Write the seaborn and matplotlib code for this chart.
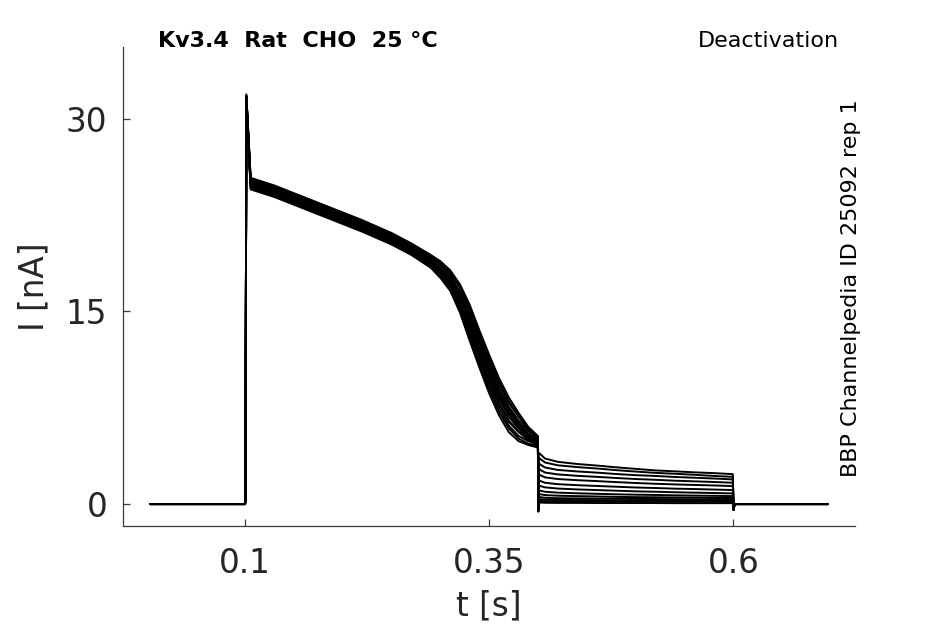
import numpy as np
import pandas as pd
import matplotlib
matplotlib.use("Agg")
import matplotlib.pyplot as plt
import seaborn as sns

# time points (s) shared by every sweep
T_ACT = [0.0025, 0.0998, 0.1000, 0.1004, 0.1011, 0.1055, 0.13, 0.16, 0.19, 0.22,
         0.25, 0.27, 0.29, 0.30, 0.31, 0.32, 0.33, 0.34, 0.35, 0.36,
         0.37, 0.38, 0.39, 0.3998]
T_TAIL = [0.4002, 0.4008, 0.407, 0.42, 0.44, 0.46, 0.48, 0.50, 0.52, 0.54, 0.56, 0.58, 0.5995]
T_END = [0.6003, 0.6012, 0.697]

# current (nA) during the activating step, one row per sweep
I_ACT = [
    [0, 0, 0.3, 6.0, 31.7, 25.0, 24.4, 23.5, 22.6, 21.7, 20.7, 19.9, 18.9, 18.3, 17.4, 16.0, 14.1, 12.1, 10.1, 8.4, 7.0, 6.0, 5.3, 4.9],
    [0, 0, 0.3, 6.1, 31.8, 25.3, 24.7, 23.8, 22.9, 22.0, 21.0, 20.2, 19.3, 18.7, 18.0, 16.8, 15.1, 13.1, 11.2, 9.4, 7.9, 6.8, 5.8, 5.2],
    [0, 0, 0.3, 5.8, 31.6, 24.7, 24.1, 23.2, 22.3, 21.4, 20.4, 19.6, 18.6, 17.9, 16.9, 15.3, 13.3, 11.2, 9.2, 7.5, 6.1, 5.3, 4.9, 4.6],
    [0, 0, 0.3, 6.2, 31.9, 25.4, 24.8, 23.9, 23.0, 22.1, 21.1, 20.3, 19.4, 18.9, 18.2, 17.1, 15.5, 13.5, 11.6, 9.8, 8.3, 7.1, 6.0, 5.3],
    [0, 0, 0.3, 5.9, 31.5, 24.8, 24.2, 23.3, 22.4, 21.5, 20.5, 19.7, 18.8, 18.1, 17.2, 15.7, 13.7, 11.6, 9.7, 7.9, 6.5, 5.7, 5.1, 4.7],
    [0, 0, 0.3, 6.0, 31.8, 25.1, 24.5, 23.6, 22.7, 21.8, 20.8, 20.0, 19.1, 18.4, 17.6, 16.3, 14.5, 12.5, 10.6, 8.8, 7.4, 6.3, 5.5, 5.0],
    [0, 0, 0.3, 5.7, 31.4, 24.5, 23.9, 23.0, 22.1, 21.2, 20.2, 19.4, 18.4, 17.6, 16.6, 14.9, 12.7, 10.6, 8.6, 6.9, 5.6, 4.9, 4.6, 4.4],
    [0, 0, 0.3, 6.1, 31.7, 25.2, 24.6, 23.7, 22.8, 21.9, 20.9, 20.1, 19.2, 18.6, 17.8, 16.5, 14.8, 12.8, 10.9, 9.1, 7.6, 6.5, 5.7, 5.1],
    [0, 0, 0.3, 5.9, 31.6, 24.9, 24.3, 23.4, 22.5, 21.6, 20.6, 19.8, 18.9, 18.2, 17.3, 15.9, 14.0, 11.9, 10.0, 8.2, 6.8, 5.9, 5.2, 4.8],
    [0, 0, 0.3, 6.1, 31.8, 25.3, 24.7, 23.8, 22.9, 22.0, 21.0, 20.2, 19.3, 18.8, 18.0, 16.9, 15.2, 13.2, 11.3, 9.5, 8.0, 6.9, 5.9, 5.2],
    [0, 0, 0.3, 5.8, 31.5, 24.6, 24.0, 23.1, 22.2, 21.3, 20.3, 19.5, 18.5, 17.7, 16.8, 15.1, 13.0, 10.9, 8.9, 7.2, 5.9, 5.1, 4.7, 4.5],
    [0, 0, 0.3, 6.0, 31.7, 25.0, 24.4, 23.5, 22.6, 21.7, 20.7, 19.9, 19.0, 18.4, 17.6, 16.2, 14.4, 12.3, 10.4, 8.6, 7.2, 6.2, 5.4, 4.9],
    [0, 0, 0.3, 5.8, 31.6, 24.8, 24.2, 23.3, 22.4, 21.5, 20.5, 19.7, 18.7, 18.0, 17.1, 15.6, 13.5, 11.5, 9.5, 7.8, 6.4, 5.6, 5.0, 4.7],
]

# current (nA) during the deactivating step
I_TAIL = [
    [0.6, 4.00, 3.55, 3.29, 3.12, 3.00, 2.86, 2.74, 2.62, 2.55, 2.47, 2.41, 2.33],
    [0.4, 3.60, 3.24, 3.02, 2.88, 2.77, 2.64, 2.53, 2.43, 2.36, 2.28, 2.19, 2.12],
    [0.2, 3.15, 2.85, 2.66, 2.54, 2.45, 2.34, 2.25, 2.19, 2.11, 2.05, 1.99, 1.92],
    [0.0, 2.72, 2.46, 2.31, 2.20, 2.12, 2.03, 1.95, 1.89, 1.82, 1.77, 1.72, 1.66],
    [-0.1, 2.30, 2.08, 1.95, 1.86, 1.79, 1.71, 1.64, 1.58, 1.53, 1.49, 1.45, 1.40],
    [-0.2, 1.84, 1.66, 1.55, 1.47, 1.41, 1.35, 1.29, 1.25, 1.20, 1.17, 1.13, 1.09],
    [-0.3, 1.44, 1.30, 1.21, 1.14, 1.09, 1.04, 0.99, 0.96, 0.92, 0.89, 0.86, 0.83],
    [-0.35, 1.06, 0.96, 0.89, 0.84, 0.80, 0.76, 0.73, 0.71, 0.68, 0.66, 0.64, 0.62],
    [-0.4, 0.78, 0.70, 0.65, 0.62, 0.59, 0.56, 0.54, 0.53, 0.51, 0.50, 0.48, 0.47],
    [-0.45, 0.55, 0.49, 0.46, 0.44, 0.42, 0.41, 0.40, 0.39, 0.38, 0.37, 0.37, 0.36],
    [-0.5, 0.38, 0.34, 0.32, 0.31, 0.30, 0.29, 0.29, 0.28, 0.28, 0.27, 0.27, 0.26],
    [-0.55, 0.25, 0.22, 0.21, 0.20, 0.20, 0.19, 0.19, 0.19, 0.18, 0.18, 0.18, 0.17],
    [-0.6, 0.12, 0.10, 0.09, 0.09, 0.08, 0.08, 0.08, 0.08, 0.07, 0.07, 0.07, 0.07],
]

# back to holding potential
I_END = [-0.45, 0.0, 0.0]

TITLE = "Kv3.4  Rat  CHO  25 °C"
PROTOCOL = "Deactivation"
SOURCE = "BBP Channelpedia ID 25092 rep 1"


def build_frame():
    rows = []
    times = T_ACT + T_TAIL + T_END
    for k, (act, tail) in enumerate(zip(I_ACT, I_TAIL)):
        vals = act + tail + I_END
        for t, i in zip(times, vals):
            rows.append({"t": t, "I": i, "sweep": k})
    return pd.DataFrame(rows)


def main():
    df = build_frame()

    sns.set_theme(style="ticks")
    plt.rcParams["font.family"] = ["DejaVu Sans"]

    fig = plt.figure(figsize=(9.45, 6.24), dpi=100)
    ax = fig.add_axes([0.1298, 0.157, 0.775, 0.768])

    sns.lineplot(data=df, x="t", y="I", units="sweep", estimator=None, sort=False,
                 color="black", linewidth=1.4, ax=ax)

    ax.set_xlim(-0.0256, 0.7247)
    ax.set_ylim(-1.71, 35.6)
    ax.set_xticks([0.1, 0.35, 0.6])
    ax.set_xticklabels(["0.1", "0.35", "0.6"])
    ax.set_yticks([0, 15, 30])
    ax.set_yticklabels(["0", "15", "30"])

    sns.despine(ax=ax)
    for side in ["left", "bottom"]:
        ax.spines[side].set_color("#3a3a3a")
        ax.spines[side].set_linewidth(0.9)
    ax.tick_params(axis="x", direction="in", length=5, width=0.9, color="#3a3a3a",
                   labelsize=23.5, pad=15, labelcolor="#262626")
    ax.tick_params(axis="y", direction="in", length=5, width=0.9, color="#3a3a3a",
                   labelsize=23.5, pad=11, labelcolor="#262626")

    ax.set_xlabel("t [s]", fontsize=23.5, labelpad=7, color="#262626")
    ax.set_ylabel("I [nA]", fontsize=23.5, labelpad=11, color="#262626")

    fig.text(158 / 945, 1 - 46.7 / 624, TITLE, fontsize=16, fontweight="bold",
             ha="left", va="baseline", color="black")
    fig.text(839 / 945, 1 - 46.7 / 624, PROTOCOL, fontsize=16,
             ha="right", va="baseline", color="black")
    fig.text(851 / 945, 1 - 477 / 624, SOURCE, fontsize=16, rotation=90,
             ha="center", va="bottom", color="black")

    fig.savefig("out.png", dpi=100)


if __name__ == "__main__":
    main()
